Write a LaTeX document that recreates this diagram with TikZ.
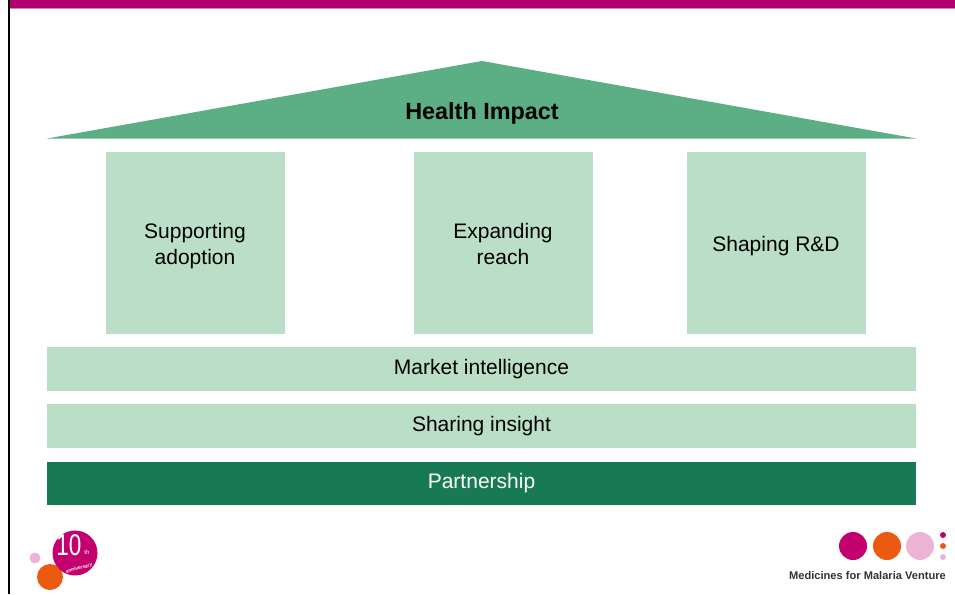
\documentclass[tikz,border=0pt]{standalone}
\usepackage{fontspec}
\setmainfont{Liberation Sans}
\definecolor{barpink}{HTML}{B0006E}
\definecolor{roofgreen}{HTML}{5CAF84}
\definecolor{palegreen}{HTML}{BBDFC6}
\definecolor{darkgreen}{HTML}{187A54}
\definecolor{logopink}{HTML}{C4006F}
\definecolor{logoorange}{HTML}{EC5A12}
\definecolor{logolight}{HTML}{EDB5D5}
\tikzset{
  pillar/.style={fill=palegreen, minimum width=179pt, minimum height=182pt},
  band/.style={fill=palegreen, minimum width=869pt, minimum height=44pt},
  label/.style={align=center, font=\fontsize{21}{26}\selectfont},
  dot/.style={circle, inner sep=0pt, outer sep=0pt}
}
\begin{document}
\begin{tikzpicture}[x=1pt, y=-1pt, inner sep=0pt, outer sep=0pt]
\useasboundingbox (0,0) rectangle (955,594);
\fill[barpink] (10,0) rectangle (955,8);
\fill[barpink!50] (10,8) rectangle (955,9.5);
\fill[black] (7.5,0) rectangle (10,594);
% roof
\fill[roofgreen] (47,138.5) -- (482,61) -- (916,138.5) -- cycle;
\node[font=\fontsize{23.4}{28}\selectfont\bfseries] (impact) at (482,113.5) {Health Impact};
% pillars
\node[pillar] (adoption) at (195.5,243) {};
\node[pillar, minimum width=179.5pt] (reach) at (503.25,243) {};
\node[pillar] (shaping) at (776.5,243) {};
\node[label] (adoptiontext) at (195,246) {Supporting\\adoption};
\node[label] (reachtext) at (503,244) {Expanding\\reach};
\node[label] (shapingtext) at (776,246) {Shaping R\&D};
% bands
\node[band] (market) at (481.5,369) {};
\node[band] (insight) at (481.5,426) {};
\node[band, fill=darkgreen, minimum height=43pt] (partner) at (481.5,483.5) {};
\node[label] (markettext) at (481.5,369) {Market intelligence};
\node[label] (insighttext) at (481.5,426) {Sharing insight};
\node[label, text=white] (partnertext) at (481.5,483) {Partnership};
% anniversary logo
\node[dot, fill=logolight, minimum size=11pt] (a) at (35,558) {};
\node[dot, fill=logoorange, minimum size=26pt] (b) at (50,577) {};
\node[dot, fill=logopink, minimum size=45pt] (c) at (75,553) {};
\node[font=\fontsize{30}{30}\selectfont, text=white, xscale=.75] (ten) at (69,545) {10};
\node[font=\fontsize{6}{6}\selectfont, text=white] (th) at (87,552) {th};
\node[font=\fontsize{4.8}{5}\selectfont\bfseries, text=white, rotate=15] (anniv) at (79,568.5) {anniversary};
% mmv logo
\node[dot, fill=logopink, minimum size=28pt] (d) at (853,546) {};
\node[dot, fill=logoorange, minimum size=28pt] (e) at (887,546) {};
\node[dot, fill=logolight, minimum size=28pt] (f) at (920,546) {};
\node[dot, fill=logopink, minimum size=6pt] (g) at (943,535) {};
\node[dot, fill=logoorange, minimum size=6pt] (h) at (943,546) {};
\node[dot, fill=logolight, minimum size=6pt] (i) at (943,557) {};
\node[font=\fontsize{11.1}{13}\selectfont\bfseries, text=black!80] (mmv) at (867.5,576) {Medicines for Malaria Venture};
\end{tikzpicture}
\end{document}
